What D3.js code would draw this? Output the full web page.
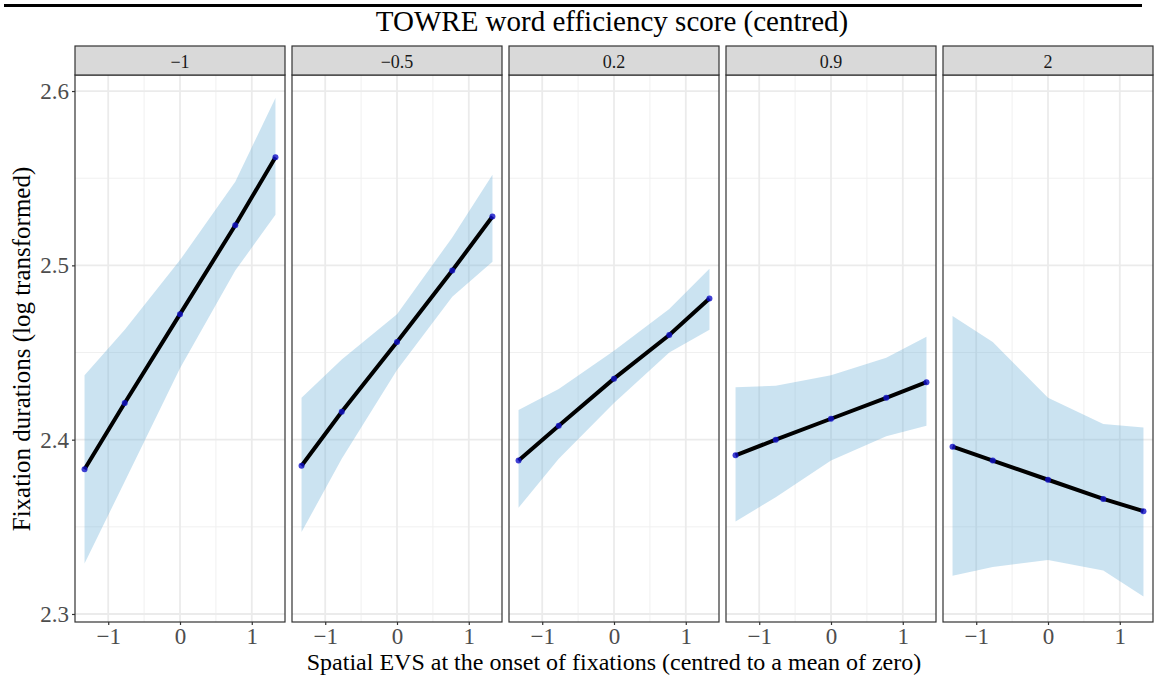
<!DOCTYPE html>
<html>
<head>
<meta charset="utf-8">
<script src="https://cdn.jsdelivr.net/npm/d3@7"></script>
<style>
  body { margin: 0; background: #fff; }
  text { font-family: "Liberation Serif", "DejaVu Serif", serif; }
</style>
</head>
<body>
<div id="plot"></div>
<script>
// facet levels (TOWRE score)
const facets = ["\u22121", "\u22120.5", "0.2", "0.9", "2"];
// x positions of the predicted points
const evs = [-1.33, -0.77, 0, 0.77, 1.33];
// predicted fixation durations per facet
const fit = [
  [2.383, 2.421, 2.472, 2.523, 2.562],
  [2.385, 2.416, 2.456, 2.497, 2.528],
  [2.388, 2.408, 2.435, 2.460, 2.481],
  [2.391, 2.400, 2.412, 2.424, 2.433],
  [2.396, 2.388, 2.377, 2.366, 2.359]
];
const upper = [
  [2.437, 2.463, 2.503, 2.548, 2.596],
  [2.424, 2.446, 2.472, 2.516, 2.552],
  [2.417, 2.429, 2.451, 2.475, 2.498],
  [2.430, 2.431, 2.437, 2.447, 2.459],
  [2.471, 2.456, 2.424, 2.409, 2.407]
];
const lower = [
  [2.329, 2.376, 2.441, 2.497, 2.529],
  [2.347, 2.389, 2.440, 2.482, 2.502],
  [2.361, 2.389, 2.421, 2.450, 2.463],
  [2.353, 2.367, 2.388, 2.402, 2.408],
  [2.322, 2.327, 2.331, 2.325, 2.310]
];
const xTicks = [-1, 0, 1];
const xMinor = [-0.5, 0.5];
const yTicks = [2.3, 2.4, 2.5, 2.6];
const yMinor = [2.35, 2.45, 2.55];

const W = 1155, H = 677;
const panelLeft = 75, panelW = 210, gap = 7;
const stripTop = 46, panelTop = 75, panelBottom = 622;

const svg = d3.select("#plot").append("svg")
  .attr("width", W).attr("height", H);

// black rule above title
svg.append("line")
  .attr("x1", 4).attr("x2", 1142).attr("y1", 5.5).attr("y2", 5.5)
  .attr("stroke", "#000").attr("stroke-width", 3);

svg.append("text")
  .attr("x", 612).attr("y", 31)
  .attr("text-anchor", "middle")
  .style("font-size", "29px")
  .text("TOWRE word efficiency score (centred)");

const y = d3.scaleLinear().domain([2.2954, 2.6092]).range([panelBottom, panelTop]);

facets.forEach((f, i) => {
  const x0 = panelLeft + i * (panelW + gap);
  const x = d3.scaleLinear().domain([-1.463, 1.463]).range([x0, x0 + panelW]);
  const g = svg.append("g");

  // grid
  g.selectAll(".ymin").data(yMinor).join("line")
    .attr("x1", x0).attr("x2", x0 + panelW)
    .attr("y1", d => y(d)).attr("y2", d => y(d))
    .attr("stroke", "#f0f0f0").attr("stroke-width", 1);
  g.selectAll(".xmin").data(xMinor).join("line")
    .attr("y1", panelTop).attr("y2", panelBottom)
    .attr("x1", d => x(d)).attr("x2", d => x(d))
    .attr("stroke", "#f0f0f0").attr("stroke-width", 1);
  g.selectAll(".ymaj").data(yTicks).join("line")
    .attr("x1", x0).attr("x2", x0 + panelW)
    .attr("y1", d => y(d)).attr("y2", d => y(d))
    .attr("stroke", "#ebebeb").attr("stroke-width", 1.8);
  g.selectAll(".xmaj").data(xTicks).join("line")
    .attr("y1", panelTop).attr("y2", panelBottom)
    .attr("x1", d => x(d)).attr("x2", d => x(d))
    .attr("stroke", "#ebebeb").attr("stroke-width", 1.8);

  // ribbon
  const area = d3.area()
    .x((d, k) => x(evs[k]))
    .y0((d, k) => y(lower[i][k]))
    .y1((d, k) => y(upper[i][k]));
  g.append("path").datum(evs)
    .attr("d", area)
    .attr("fill", "#6baed6").attr("fill-opacity", 0.35);

  // fitted line
  const line = d3.line().x((d, k) => x(evs[k])).y(d => y(d));
  g.append("path").datum(fit[i])
    .attr("d", line)
    .attr("fill", "none").attr("stroke", "#000").attr("stroke-width", 4);

  g.selectAll(".pt").data(fit[i]).join("circle")
    .attr("cx", (d, k) => x(evs[k])).attr("cy", d => y(d))
    .attr("r", 3).attr("fill", "#1010c8").attr("fill-opacity", 0.8);

  // panel border
  g.append("rect")
    .attr("x", x0).attr("y", panelTop).attr("width", panelW).attr("height", panelBottom - panelTop)
    .attr("fill", "none").attr("stroke", "#333").attr("stroke-width", 1.2);

  // strip
  g.append("rect")
    .attr("x", x0).attr("y", stripTop).attr("width", panelW).attr("height", panelTop - stripTop)
    .attr("fill", "#d9d9d9").attr("stroke", "#333").attr("stroke-width", 1.2);
  g.append("text")
    .attr("x", x0 + panelW / 2).attr("y", (stripTop + panelTop) / 2 + 1)
    .attr("text-anchor", "middle").attr("dominant-baseline", "central")
    .style("font-size", "18px").attr("fill", "#1a1a1a")
    .text(f);

  // x axis
  const xAxis = g.append("g")
    .attr("transform", `translate(0,${panelBottom})`)
    .call(d3.axisBottom(x).tickValues(xTicks).tickSize(3).tickPadding(3)
      .tickFormat(d => d < 0 ? "\u2212" + Math.abs(d) : d));
  xAxis.select(".domain").remove();
  xAxis.selectAll("line").attr("stroke", "#333").attr("stroke-width", 1.2);
  xAxis.selectAll("text").attr("fill", "#4d4d4d")
    .style("font-size", "23px").style("font-family", "Liberation Serif");
});

// y axis on first panel
const yAxis = svg.append("g")
  .attr("transform", `translate(${panelLeft},0)`)
  .call(d3.axisLeft(y).tickValues(yTicks).tickSize(3).tickPadding(3).tickFormat(d3.format(".1f")));
yAxis.select(".domain").remove();
yAxis.selectAll("line").attr("stroke", "#333").attr("stroke-width", 1.2);
yAxis.selectAll("text").attr("fill", "#4d4d4d")
  .style("font-size", "23px").style("font-family", "Liberation Serif");

// axis titles
svg.append("text")
  .attr("x", 614).attr("y", 670)
  .attr("text-anchor", "middle")
  .style("font-size", "24px")
  .text("Spatial EVS at the onset of fixations (centred to a mean of zero)");

svg.append("text")
  .attr("transform", "translate(30,349) rotate(-90)")
  .attr("text-anchor", "middle")
  .style("font-size", "25px")
  .text("Fixation durations (log transformed)");
</script>
</body>
</html>
